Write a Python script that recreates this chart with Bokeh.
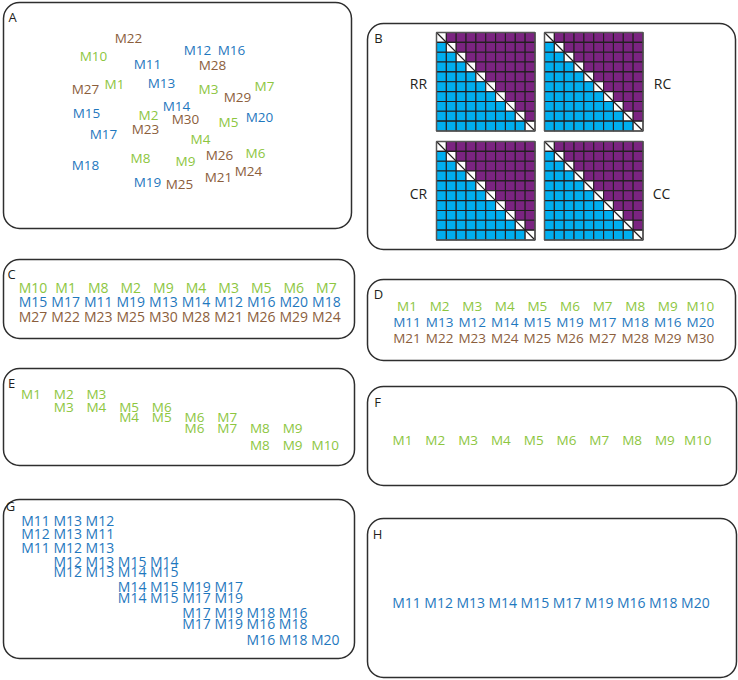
from bokeh.plotting import figure
from bokeh.models import Range1d, BoxAnnotation, ColumnDataSource
from bokeh.core.properties import value
from bokeh.embed import file_html
from bokeh.resources import INLINE

GREEN = "#8DC63F"
BLUE = "#1F78BE"
BROWN = "#8B5E3C"
INK = "#231F20"
CYAN = "#00AEEF"
PURPLE = "#7B2481"
FONT = "Open Sans"

# ---------------- data ----------------
# Panel A: 2-D embedding of modules
a_labels = ["M22", "M10", "M11", "M12", "M16", "M28", "M27", "M1", "M13", "M3",
            "M7", "M29", "M15", "M14", "M2", "M30", "M5", "M20", "M17", "M23",
            "M4", "M8", "M9", "M26", "M6", "M18", "M21", "M24", "M19", "M25"]
a_x = [128, 93, 147, 197, 231, 212, 85, 114, 161, 208,
       264, 237, 86, 176, 148, 185, 228, 259, 103, 145,
       200, 140, 185, 219, 255, 85, 218, 248, 147, 179]
a_y = [37, 55, 63, 49, 49, 64, 88, 83, 82, 88,
       85, 96, 112, 105, 114, 118, 121, 116, 133, 128,
       138, 157, 160, 154, 152, 164, 176, 170, 181, 183]

# Panel B: four pairwise matrices
b_names = ["RR", "RC", "CR", "CC"]
b_cells = 10

# Panel C
c_green = ["M10", "M1", "M8", "M2", "M9", "M4", "M3", "M5", "M6", "M7"]
c_blue = ["M15", "M17", "M11", "M19", "M13", "M14", "M12", "M16", "M20", "M18"]
c_brown = ["M27", "M22", "M23", "M25", "M30", "M28", "M21", "M26", "M29", "M24"]

# Panel D
d_green = ["M1", "M2", "M3", "M4", "M5", "M6", "M7", "M8", "M9", "M10"]
d_blue = ["M11", "M13", "M12", "M14", "M15", "M19", "M17", "M18", "M16", "M20"]
d_brown = ["M21", "M22", "M23", "M24", "M25", "M26", "M27", "M28", "M29", "M30"]

# Panel E
e_rows = [["M1", "M2", "M3"], ["M3", "M4", "M5", "M6"], ["M4", "M5", "M6", "M7"],
          ["M6", "M7", "M8", "M9"], ["M8", "M9", "M10"]]
e_start = [0, 1, 3, 5, 7]

# Panel F
f_order = ["M1", "M2", "M3", "M4", "M5", "M6", "M7", "M8", "M9", "M10"]

# Panel G
g_rows = [["M11", "M13", "M12"], ["M12", "M13", "M11"], ["M11", "M12", "M13"],
          ["M12", "M13", "M15", "M14"], ["M12", "M13", "M14", "M15"],
          ["M14", "M15", "M19", "M17"], ["M14", "M15", "M17", "M19"],
          ["M17", "M19", "M18", "M16"], ["M17", "M19", "M16", "M18"],
          ["M16", "M18", "M20"]]
g_start = [0, 0, 0, 1, 1, 3, 3, 5, 5, 7]

# Panel H
h_order = ["M11", "M12", "M13", "M14", "M15", "M17", "M19", "M16", "M18", "M20"]

panel_letters = ["A", "B", "C", "D", "E", "F", "G", "H"]


def color_of(lbl):
    n = int(lbl[1:])
    return GREEN if n <= 10 else (BLUE if n <= 20 else BROWN)


# ---------------- figure ----------------
p = figure(width=738, height=680, output_backend="svg", toolbar_location=None,
           x_range=Range1d(0, 738), y_range=Range1d(680, 0), min_border=0)
p.axis.visible = False
p.grid.visible = False
p.outline_line_color = None

# panel frames (layout)
frames = [(3, 351, 2, 228), (367, 735, 23, 249), (3, 354, 259, 338), (367, 735, 279, 360),
          (3, 354, 368, 465), (367, 736, 386, 485), (3, 354, 499, 658), (367, 736, 518, 677)]
for (l, r, t, b) in frames:
    p.add_layout(BoxAnnotation(left=l, right=r, top=t, bottom=b, fill_color=None,
                               line_color="#2E2E2E", line_alpha=1.0, line_width=1.5,
                               border_radius=16, level="underlay"))

# panel letters
letter_pos = [(12, 16), (378, 37), (11, 273), (378, 293), (11, 382), (377, 401), (10, 505), (377, 533)]
p.text(x=[q[0] for q in letter_pos], y=[q[1] for q in letter_pos], text=panel_letters,
       text_color=INK, text_font=value(FONT), text_font_size="13px",
       text_align="center", text_baseline="middle")


def add_labels(xs, ys, labels, size):
    src = ColumnDataSource(dict(x=xs, y=ys, t=labels, c=[color_of(l) for l in labels]))
    p.text(x="x", y="y", text="t", text_color="c", source=src,
           text_font=value(FONT), text_font_size=size,
           text_align="center", text_baseline="middle")


# A
add_labels(a_x, a_y, a_labels, "13.5px")

# B grids
cell = 9.85
origins = [(436, 32), (544, 32), (436, 141), (544, 141)]
gx, gy, gc = [], [], []
for (ox, oy) in origins:
    for i in range(b_cells):
        for j in range(b_cells):
            gx.append(ox + (j + 0.5) * cell)
            gy.append(oy + (i + 0.5) * cell)
            gc.append(CYAN if i > j else (PURPLE if i < j else "white"))
p.rect(x=gx, y=gy, width=cell, height=cell, fill_color=gc, line_color=INK, line_width=1.1)
side = cell * b_cells
p.segment(x0=[o[0] for o in origins], y0=[o[1] for o in origins],
          x1=[o[0] + side for o in origins], y1=[o[1] + side for o in origins],
          line_color=INK, line_width=1.2)
p.rect(x=[o[0] + side / 2 for o in origins], y=[o[1] + side / 2 for o in origins],
       width=side, height=side, fill_color=None, line_color="#555555", line_width=1.4)
p.text(x=[418, 662, 418, 661], y=[83, 83, 193, 193], text=b_names, text_color=INK,
       text_font=value(FONT), text_font_size="14px", text_align="center", text_baseline="middle")

# C
cx, cy, cl = [], [], []
for row, yy in zip([c_green, c_blue, c_brown], [287, 301, 316]):
    for i, lbl in enumerate(row):
        cx.append(32.5 + 32.6 * i); cy.append(yy); cl.append(lbl)
add_labels(cx, cy, cl, "14px")

# D
dx, dy, dl = [], [], []
for row, yy in zip([d_green, d_blue, d_brown], [305, 321.5, 337.5]):
    for i, lbl in enumerate(row):
        dx.append(406.5 + 32.6 * i); dy.append(yy); dl.append(lbl)
add_labels(dx, dy, dl, "13.5px")

# E
ex, ey, el = [], [], []
for row, s, yy in zip(e_rows, e_start, [393, 406, 416.5, 427, 444]):
    for k, lbl in enumerate(row):
        ex.append(30.5 + 32.7 * (s + k)); ey.append(yy); el.append(lbl)
add_labels(ex, ey, el, "13.5px")

# F
add_labels([402 + 32.8 * i for i in range(len(f_order))], [439] * len(f_order), f_order, "13.5px")

# G
gxs, gys, gls = [], [], []
for row, s, yy in zip(g_rows, g_start, [519.5, 532.5, 546.5, 561, 571, 586, 596.5, 612, 623, 638.5]):
    for k, lbl in enumerate(row):
        gxs.append(35 + 32.2 * (s + k)); gys.append(yy); gls.append(lbl)
add_labels(gxs, gys, gls, "14px")

# H
add_labels([406 + 32.1 * i for i in range(len(h_order))], [602] * len(h_order), h_order, "14px")

open("out.html", "w").write(file_html(p, INLINE))
